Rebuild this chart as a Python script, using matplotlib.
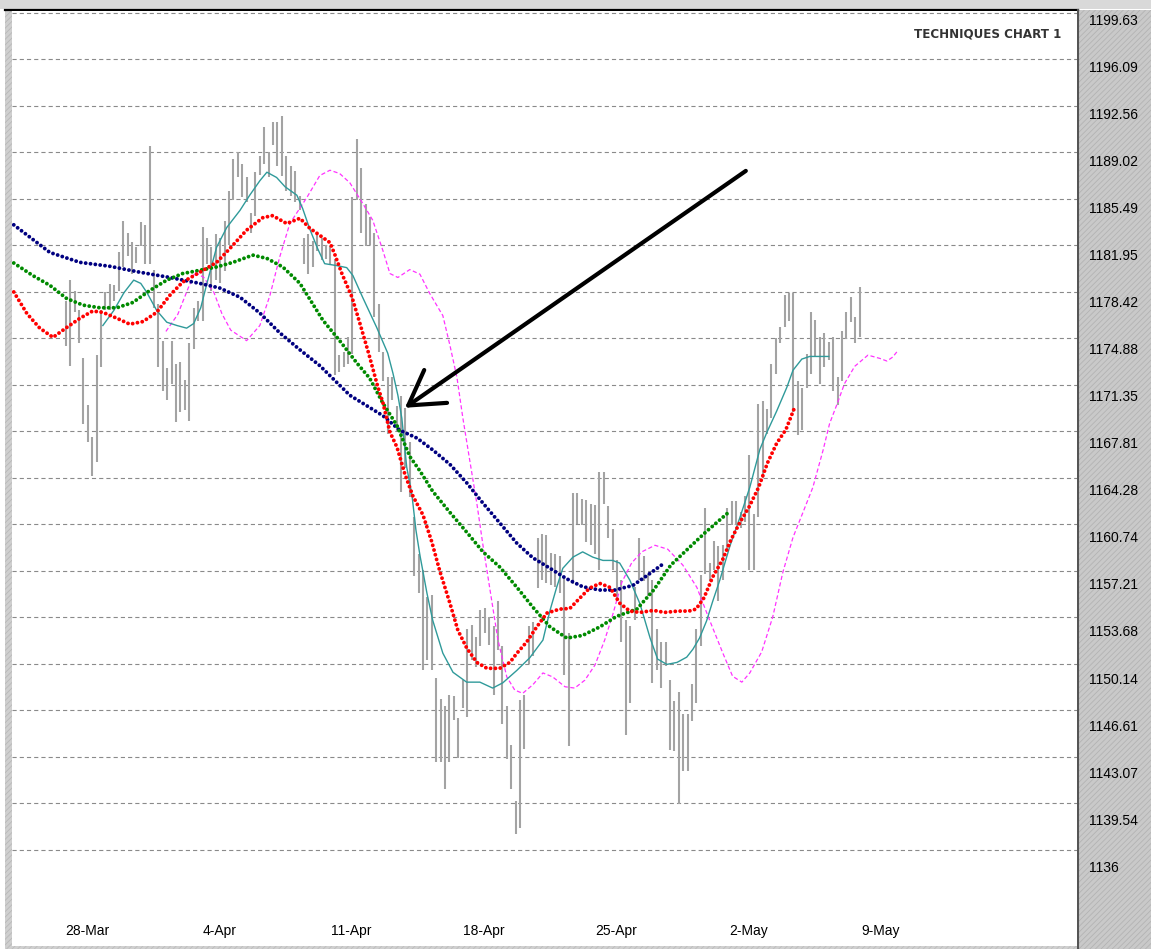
import matplotlib
matplotlib.use('Agg')
import matplotlib.pyplot as plt
import matplotlib.transforms as mtransforms
from matplotlib.patches import Rectangle
from matplotlib.lines import Line2D
import numpy as np

plt.rcParams['lines.scale_dashes'] = False
plt.rcParams['hatch.linewidth'] = 0.6

W, H = 1151, 949

# ---- price bars (6 bars per trading day), high / low ----
bar_high = [
    1177.7, 1179.3, 1178.5, 1177.0, 1173.4, 1169.8, 1167.4, 1173.6, 1177.0, 1178.4,
    1179.0, 1178.9, 1181.4, 1183.8, 1182.9, 1182.2, 1181.8, 1183.7, 1183.5, 1189.5,
    1180.1, 1177.5, 1174.7, 1172.6, 1174.7, 1172.9, 1173.1, 1171.7, 1174.5, 1177.2,
    1177.7, 1183.3, 1182.5, 1181.8, 1182.8, 1182.5, 1183.8, 1186.1,
    1188.5, 1189.0, 1188.1, 1187.1, 1184.4, 1187.5, 1188.7, 1190.9, 1189.0, 1191.3,
    1191.3, 1191.8, 1188.7, 1188.0, 1187.6, 1185.7, 1182.5, 1182.8, 1182.3, 1182.9,
    1182.5, 1182.0, 1181.9, 1180.9, 1173.6, 1173.8, 1175.0, 1185.6, 1190.0, 1187.8,
    1185.1, 1184.1, 1182.9, 1177.5, 1173.8, 1171.9, 1171.9, 1169.7, 1170.5, 1169.6,
    1167.0, 1161.3, 1158.5, 1157.3, 1155.2, 1155.4, 1149.1, 1147.5, 1146.9, 1147.8,
    1147.7, 1146.0, 1148.9, 1152.8, 1153.1, 1152.2, 1154.2, 1154.4, 1153.7, 1153.0,
    1154.9, 1151.5, 1146.9, 1144.0, 1139.7, 1147.4, 1147.8, 1153.0, 1153.3, 1159.7,
    1160.0, 1159.9, 1158.6, 1158.5, 1158.3, 1156.8, 1152.5, 1163.1, 1163.1, 1162.7,
    1162.6, 1162.3, 1162.2, 1164.7, 1164.7, 1162.1, 1160.4, 1158.0, 1156.5, 1153.5,
    1153.0, 1156.0, 1159.7, 1158.3, 1157.0, 1156.5, 1152.8, 1151.8, 1151.8, 1148.9,
    1147.3, 1148.0, 1146.3, 1146.3, 1148.6, 1152.8, 1156.9, 1162.0, 1157.8, 1159.5,
    1159.1, 1159.2, 1162.0, 1162.5, 1162.5, 1161.7, 1162.9, 1166.0, 1161.5, 1169.9,
    1170.1, 1169.5, 1172.9, 1174.9, 1175.7, 1178.2, 1178.3, 1178.3, 1171.6, 1171.1,
    1173.7, 1176.9, 1176.3, 1175.0, 1175.3, 1174.6, 1175.0, 1171.9, 1175.4, 1176.9,
    1178.0, 1176.5, 1178.8,
]
bar_low = [
    1174.3, 1172.8, 1176.9, 1174.5, 1168.4, 1167.0, 1164.4, 1165.5, 1172.7, 1177.0,
    1177.0, 1177.7, 1178.5, 1180.3, 1181.1, 1179.8, 1180.6, 1181.9, 1180.5, 1180.5,
    1177.2, 1172.7, 1170.9, 1170.2, 1171.4, 1168.5, 1169.3, 1169.4, 1168.6, 1174.1,
    1176.2, 1176.2, 1180.5, 1178.5, 1179.3, 1179.1, 1180.0, 1182.0,
    1185.4, 1187.1, 1185.6, 1185.2, 1182.9, 1184.2, 1187.3, 1188.1, 1187.1, 1189.6,
    1188.0, 1187.2, 1186.1, 1185.7, 1185.2, 1184.6, 1180.5, 1179.8, 1180.3, 1181.5,
    1180.8, 1180.9, 1180.5, 1172.1, 1172.3, 1172.7, 1172.9, 1173.7, 1185.4, 1182.9,
    1181.9, 1182.0, 1176.5, 1173.8, 1171.6, 1167.6, 1170.2, 1167.8, 1163.2, 1165.0,
    1162.8, 1156.8, 1155.5, 1149.7, 1150.4, 1149.7, 1142.7, 1142.7, 1140.6, 1142.7,
    1145.9, 1143.0, 1146.8, 1146.1, 1150.4, 1149.9, 1151.5, 1152.5, 1151.6, 1147.8,
    1151.2, 1145.6, 1142.9, 1140.6, 1137.2, 1137.7, 1143.7, 1150.1, 1150.7, 1155.9,
    1156.5, 1156.3, 1156.1, 1156.0, 1155.5, 1149.3, 1143.9, 1156.2, 1160.8, 1160.7,
    1159.4, 1159.2, 1158.5, 1157.3, 1162.3, 1159.7, 1157.3, 1155.0, 1151.8, 1144.7,
    1147.2, 1153.5, 1156.5, 1156.4, 1155.3, 1148.7, 1149.7, 1148.3, 1150.0, 1143.6,
    1143.5, 1139.5, 1142.0, 1142.0, 1145.8, 1147.2, 1151.5, 1157.0, 1156.4, 1157.3,
    1154.9, 1156.5, 1158.9, 1160.7, 1160.7, 1160.5, 1160.9, 1157.3, 1157.3, 1161.3,
    1164.3, 1167.6, 1168.8, 1172.2, 1174.5, 1175.7, 1176.2, 1169.3, 1167.5, 1167.9,
    1171.1, 1172.2, 1173.5, 1171.4, 1172.7, 1173.2, 1170.9, 1169.8, 1171.6, 1174.8,
    1176.1, 1174.5, 1175.0,
]

# ---- averages (x in bar index) ----
red_x = [-11.8, -8.8, -5.9, -2.9, 0.2, 3.2, 6.1, 8.4, 11.6, 14.5,
         17.5, 20.6, 23.6, 26.5, 30.4, 34.2, 37.2, 41.0, 44.7, 46.9,
         50.1, 53.1, 55.3, 57.6, 59.9, 61.0, 62.6, 64.9, 66.7, 68.7,
         70.7, 71.9, 73.5, 75.1, 76.9, 78.7, 81.0, 83.0, 84.8, 87.1,
         88.9, 90.9, 93.2, 95.5, 98.4, 100.7, 102.3, 104.5, 106.8, 109.1,
         112.0, 114.3, 116.6, 118.8, 121.1, 123.4, 125.6, 127.9, 130.2, 133.3,
         135.8, 138.8, 141.3, 142.9, 144.7, 146.7, 149.0, 150.8, 152.8, 155.0,
         157.1, 159.1, 161.2, 163.3, 165.3]
red_v = [1178.4, 1176.75, 1175.65, 1174.95, 1175.7, 1176.4, 1176.95, 1176.85, 1176.4, 1175.95,
         1176.15, 1176.85, 1178.15, 1179.15, 1179.9, 1180.65, 1181.7, 1183.1, 1184.05, 1184.2,
         1183.6, 1184.0, 1183.25, 1182.7, 1182.15, 1181.25, 1179.8, 1178.0, 1176.0, 1173.7,
         1171.25, 1170.0, 1167.75, 1166.6, 1164.55, 1162.9, 1161.45, 1159.4, 1157.2, 1154.75,
         1152.7, 1151.35, 1150.25, 1149.8, 1149.8, 1150.25, 1150.95, 1151.8, 1152.95, 1154.0,
         1154.3, 1154.35, 1155.15, 1155.9, 1156.25, 1155.95, 1154.75, 1154.15, 1154.05, 1154.2,
         1154.05, 1154.15, 1154.15, 1154.3, 1155.15, 1156.75, 1158.1, 1159.55, 1160.85, 1162.1,
         1163.55, 1165.4, 1166.9, 1167.95, 1169.65]

green_x = [-11.8, -7.5, -3.6, 0.2, 3.9, 7.7, 11.6, 15.2, 19.0, 22.9,
           26.5, 30.4, 34.2, 37.9, 42.4, 45.6, 49.2, 53.1, 58.3, 62.1,
           66.0, 68.9, 71.9, 75.1, 78.0, 80.3, 83.2, 87.1, 90.9, 94.6,
           98.4, 102.3, 105.9, 109.8, 113.6, 117.2, 121.1, 124.9, 129.5, 133.3,
           137.2, 141.3, 145.1, 150.1]
green_v = [1180.6, 1179.65, 1178.9, 1177.9, 1177.4, 1177.2, 1177.2, 1177.6, 1178.5, 1179.3,
           1179.8, 1180.05, 1180.3, 1180.65, 1181.2, 1180.95, 1180.3, 1179.05, 1176.25, 1174.7,
           1173.0, 1171.85, 1169.95, 1168.25, 1165.9, 1164.8, 1163.25, 1161.65, 1160.15, 1158.65,
           1157.5, 1155.95, 1154.45, 1152.95, 1152.1, 1152.3, 1152.95, 1153.75, 1154.3, 1155.75,
           1157.65, 1158.95, 1160.15, 1161.6]

navy_x = [-11.8, -3.6, 3.2, 10.0, 16.8, 23.6, 30.4, 34.9, 39.5, 44.0,
          48.5, 53.1, 57.6, 64.4, 71.9, 75.7, 79.6, 83.2, 87.1, 90.9,
          94.6, 98.4, 102.3, 105.9, 109.8, 113.6, 117.2, 121.1, 124.5, 128.6,
          132.0, 135.1]
navy_v = [1183.5, 1181.4, 1180.65, 1180.35, 1179.9, 1179.5, 1179.05, 1178.7, 1178.0, 1176.8,
          1175.3, 1174.0, 1172.8, 1170.55, 1169.0, 1167.9, 1167.3, 1166.4, 1165.3, 1163.9,
          1162.35, 1160.85, 1159.3, 1158.2, 1157.4, 1156.6, 1156.0, 1155.75, 1155.75, 1156.1,
          1156.9, 1157.65]

teal_x = [8.4, 10.9, 13.2, 15.4, 17.0, 18.4, 20.6, 22.9, 25.2, 27.4,
          29.0, 30.6, 32.0, 34.2, 36.5, 39.5, 41.7, 44.0, 45.6, 47.8,
          49.7, 52.4, 53.7, 55.3, 57.1, 58.7, 61.5, 63.7, 65.1, 67.3,
          70.5, 73.0, 74.2, 75.3, 76.2, 77.3, 78.5, 79.4, 80.3, 81.9,
          83.2, 85.5, 87.8, 90.9, 93.9, 96.8, 99.1, 102.3, 105.2, 108.2,
          109.8, 111.3, 112.7, 115.0, 117.2, 119.5, 121.8, 124.0, 125.6, 127.9,
          130.2, 132.5, 134.2, 136.3, 138.6, 140.8, 142.2, 143.7, 145.3, 146.7,
          148.3, 150.6, 152.8, 155.1, 157.4, 159.0, 161.2, 163.5, 164.9, 166.9,
          168.7, 173.0]
teal_v = [1175.85, 1177.0, 1178.35, 1179.3, 1179.05, 1178.35, 1177.0, 1176.1, 1175.85, 1175.65,
          1176.0, 1177.2, 1179.05, 1181.8, 1183.3, 1184.6, 1185.75, 1186.85, 1187.5, 1187.1,
          1186.4, 1185.75, 1184.75, 1183.2, 1181.7, 1180.55, 1180.4, 1180.25, 1179.65, 1178.0,
          1175.7, 1173.75, 1172.2, 1170.55, 1168.8, 1165.1, 1162.95, 1160.3, 1158.4, 1155.5,
          1153.45, 1150.95, 1149.5, 1148.75, 1148.75, 1148.3, 1148.7, 1149.65, 1150.6, 1151.95,
          1154.2, 1155.95, 1157.4, 1158.25, 1158.65, 1158.25, 1158.0, 1158.0, 1157.8, 1156.5,
          1154.7, 1152.1, 1150.5, 1150.1, 1150.25, 1150.65, 1151.25, 1152.1, 1153.4, 1154.9,
          1156.5, 1159.1, 1161.2, 1163.55, 1166.45, 1167.75, 1169.35, 1171.15, 1172.45, 1173.3,
          1173.5, 1173.5]

magenta_x = [22.7, 25.4, 27.7, 29.3, 31.3, 33.6, 35.4, 37.4, 41.0, 44.0,
             46.3, 48.5, 50.8, 54.7, 57.6, 59.9, 62.1, 64.4, 67.3, 69.6,
             71.9, 73.5, 75.3, 78.0, 80.3, 82.5, 85.5, 87.1, 88.7, 90.0,
             91.6, 93.2, 94.6, 96.2, 98.0, 100.0, 101.8, 103.6, 105.9, 108.2,
             110.4, 113.2, 115.4, 117.7, 120.0, 122.2, 124.0, 126.1, 128.3, 130.6,
             133.6, 136.5, 139.9, 143.1, 146.0, 149.0, 151.2, 153.3, 155.1, 157.8,
             160.3, 162.6, 164.9, 167.1, 169.4, 171.7, 173.2, 174.8, 176.6, 178.9,
             181.9, 184.6, 186.2, 187.5, 188.7]
magenta_v = [1175.4, 1176.7, 1178.65, 1179.9, 1179.5, 1178.35, 1176.75, 1175.5, 1174.7, 1175.85,
             1178.15, 1181.05, 1183.6, 1185.6, 1187.25, 1187.65, 1187.4, 1186.7, 1185.15, 1183.85,
             1181.55, 1179.8, 1179.5, 1180.1, 1179.75, 1178.3, 1176.6, 1174.35, 1171.9, 1168.9,
             1165.6, 1162.35, 1159.15, 1155.75, 1151.95, 1149.15, 1148.15, 1147.9, 1148.55, 1149.45,
             1149.15, 1148.4, 1148.3, 1148.9, 1150.05, 1151.95, 1153.85, 1156.35, 1157.8, 1158.65,
             1159.15, 1158.85, 1157.65, 1155.95, 1153.45, 1150.95, 1149.2, 1148.75, 1149.45, 1151.05,
             1153.7, 1157.1, 1159.75, 1161.6, 1163.55, 1166.35, 1168.4, 1169.8, 1171.45, 1172.75,
             1173.6, 1173.35, 1173.15, 1173.45, 1173.95]

date_labels = ['28-Mar', '4-Apr', '11-Apr', '18-Apr', '25-Apr', '2-May', '9-May']
price_ticks = [1136, 1139.54, 1143.07, 1146.61, 1150.14, 1153.68, 1157.21, 1160.74,
               1164.28, 1167.81, 1171.35, 1174.88, 1178.42, 1181.95, 1185.49,
               1189.02, 1192.56, 1196.09, 1199.63]

BARS_PER_WEEK = 30
FIRST_LABEL_BAR = 4.8


def px_box(x0, y0, x1, y1):
    """pixel box (top-left origin) -> figure fraction [l, b, w, h]"""
    return [x0 / W, 1 - y1 / H, (x1 - x0) / W, (y1 - y0) / H]


fig = plt.figure(figsize=(W / 100, H / 100), dpi=100)
fig.patch.set_facecolor('white')

# window frame bits (kept under the axes so the price labels show)
for (x0, y0, x1, y1), fc, ec, hatch in [
        ((0, 0, W, 9), '#d9d9d9', '#d9d9d9', None),
        ((5, 10, 12, H), '#cfcfcf', '#b8b8b8', '//////'),
        ((1078, 10, W, H), '#c9c9c9', '#b3b3b3', '//////'),
        ((12, 946, 1078, H), '#d0d0d0', '#bdbdbd', '//////')]:
    l, b, w, h = px_box(x0, y0, x1, y1)
    fig.patches.append(Rectangle((l, b), w, h, transform=fig.transFigure,
                                 facecolor=fc, edgecolor=ec, hatch=hatch, lw=0, zorder=-2))
fig.lines.append(Line2D([5 / W, 1078 / W], [1 - 10 / H, 1 - 10 / H],
                        transform=fig.transFigure, color='black', lw=1.6, zorder=-1))
fig.lines.append(Line2D([1078 / W, 1078 / W], [0, 1 - 10 / H],
                        transform=fig.transFigure, color='#555555', lw=1.5, zorder=-1))

ax = fig.add_axes(px_box(12, 11, 1077, 946))
ax.set_facecolor('white')
for s in ax.spines.values():
    s.set_visible(False)
ax.set_xlim(-12.2, 229.3)
ax.set_ylim(1128.7, 1199.75)
ax.set_xticks([])
ax.set_yticks([])

for v in price_ticks:
    ax.axhline(v, color='#8a8a8a', lw=0.8, linestyle=(0, (3.0, 2.2)), zorder=1)

bx = np.arange(len(bar_high))
ax.vlines(bx, bar_low, bar_high, color='#a3a3a3', lw=1.5, zorder=2)

ax.plot(magenta_x, magenta_v, color='#ff33ff', lw=0.9, linestyle=(0, (3.0, 1.8)), zorder=3)
ax.plot(teal_x, teal_v, color='#2f9a9a', lw=1.0, zorder=4)

dot = (0, (0.01, 3.5))
for xs, vs, c, z in [(navy_x, navy_v, '#000080', 5),
                     (green_x, green_v, '#008a00', 6),
                     (red_x, red_v, '#ff0000', 7)]:
    ax.plot(xs, vs, color=c, lw=2.8, linestyle=dot, dash_capstyle='round', zorder=z)

# arrow pointing at the crossover
ax.annotate('', xy=(76.9, 1169.6), xytext=(154.2, 1187.6),
            arrowprops=dict(arrowstyle='->,head_length=0.6,head_width=0.36',
                            lw=3.0, color='black', mutation_scale=40,
                            shrinkA=0, shrinkB=0), zorder=8)

ax.text(0.985, 0.9755, 'TECHNIQUES CHART 1', transform=ax.transAxes,
        ha='right', va='center', fontsize=8.6, fontweight='bold',
        color='#333333', family='DejaVu Sans')

xtr = ax.get_xaxis_transform()
for k, lab in enumerate(date_labels):
    ax.text(FIRST_LABEL_BAR + k * BARS_PER_WEEK, 0.016, lab, transform=xtr,
            ha='center', va='center', fontsize=10, family='Liberation Sans', color='black')

# price labels sit just under their grid line, drifting a little lower down the scale
n = len(price_ticks)
for k, v in enumerate(sorted(price_ticks, reverse=True)):
    drop = 8 + 10 * k / (n - 1)
    tr = mtransforms.offset_copy(ax.get_yaxis_transform(), fig=fig, x=0, y=-drop, units='dots')
    ax.text(1.0115, v, '%g' % v, transform=tr, ha='left', va='center', fontsize=10,
            family='Liberation Sans', color='black', clip_on=False)

fig.savefig('out.png', dpi=100, facecolor=fig.get_facecolor())
